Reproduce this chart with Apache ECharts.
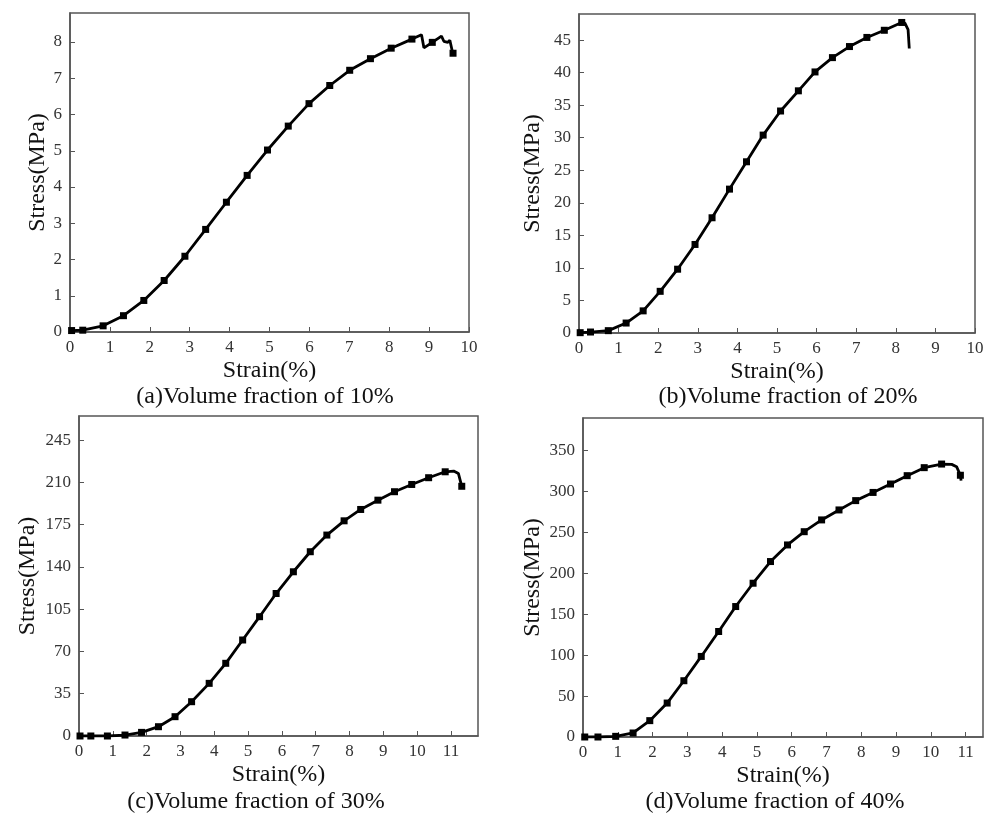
<!DOCTYPE html>
<html>
<head>
<meta charset="utf-8">
<script src="https://cdn.jsdelivr.net/npm/echarts@6/dist/echarts.min.js"></script>
<style>
    html, body { margin: 0; padding: 0; background: #fff; }
    #chart { width: 995px; height: 817px; }
</style>
</head>
<body>
<div id="chart"></div>
<script>
// (a) 10% volume fraction
const strainA = [0.04, 0.32, 0.83, 1.34, 1.85, 2.36, 2.88, 3.40, 3.92, 4.44, 4.95, 5.47, 5.99, 6.51, 7.01, 7.53, 8.05, 8.57, 8.81, 8.87, 9.08, 9.31, 9.37, 9.47, 9.52, 9.58, 9.60]
const stressA = [0.04, 0.05, 0.17, 0.45, 0.87, 1.42, 2.09, 2.83, 3.58, 4.32, 5.02, 5.68, 6.30, 6.80, 7.22, 7.54, 7.83, 8.08, 8.20, 7.84, 7.99, 8.16, 8.02, 7.99, 8.05, 7.75, 7.69]
const markA = [0, 1, 2, 3, 4, 5, 6, 7, 8, 9, 10, 11, 12, 13, 14, 15, 16, 17, 20, 26]
// (b) 20%
const strainB = [0.03, 0.29, 0.74, 1.19, 1.62, 2.05, 2.49, 2.93, 3.36, 3.80, 4.23, 4.65, 5.09, 5.54, 5.96, 6.40, 6.83, 7.27, 7.71, 8.15, 8.23, 8.31, 8.34]
const stressB = [0.05, 0.15, 0.36, 1.53, 3.4, 6.4, 9.8, 13.6, 17.7, 22.1, 26.3, 30.4, 34.1, 37.2, 40.1, 42.3, 44.0, 45.4, 46.5, 47.7, 47.6, 46.6, 43.7]
const markB = [0, 1, 2, 3, 4, 5, 6, 7, 8, 9, 10, 11, 12, 13, 14, 15, 16, 17, 18, 19]
// (c) 30%
const strainC = [0.03, 0.35, 0.84, 1.36, 1.85, 2.35, 2.84, 3.33, 3.85, 4.34, 4.84, 5.34, 5.83, 6.34, 6.84, 7.33, 7.84, 8.33, 8.84, 9.33, 9.84, 10.34, 10.83, 11.08, 11.22, 11.32]
const stressC = [0, 0, 0, 0.8, 3.0, 7.7, 16.0, 28.4, 43.6, 60.2, 79.5, 98.8, 118, 136, 152.6, 166.4, 178.2, 187.6, 195.3, 202.3, 208.3, 213.9, 218.8, 219.4, 217.4, 206.8]
const markC = [0, 1, 2, 3, 4, 5, 6, 7, 8, 9, 10, 11, 12, 13, 14, 15, 16, 17, 18, 19, 20, 21, 22, 25]
// (d) 40%
const strainD = [0.05, 0.43, 0.94, 1.44, 1.92, 2.42, 2.90, 3.40, 3.90, 4.39, 4.89, 5.39, 5.88, 6.36, 6.86, 7.36, 7.84, 8.34, 8.84, 9.32, 9.81, 10.31, 10.60, 10.74, 10.85, 10.87]
const stressD = [0, 0, 0.8, 4.9, 20, 41.5, 68.8, 98.5, 129, 159.5, 188, 214.5, 234.8, 251, 265.4, 277.6, 289, 299, 309.3, 319.5, 329.3, 333.7, 333.3, 330.5, 320, 313.4]
const markD = [0, 1, 2, 3, 4, 5, 6, 7, 8, 9, 10, 11, 12, 13, 14, 15, 16, 17, 18, 19, 20, 21, 24]

const captions = ['(a)Volume fraction of 10%', '(b)Volume fraction of 20%', '(c)Volume fraction of 30%', '(d)Volume fraction of 40%']
const xMax = [10, 10, 11.8, 11.5]
const yMax = [8.8, 49, 265, 390]
const yStep = [1, 5, 35, 50]

const panels = [
    { strain: strainA, stress: stressA, mark: markA },
    { strain: strainB, stress: stressB, mark: markB },
    { strain: strainC, stress: stressC, mark: markC },
    { strain: strainD, stress: stressD, mark: markD }
]
const grids = [
    { left: 70, top: 13, width: 399, height: 319 },
    { left: 579, top: 14, width: 396, height: 319 },
    { left: 79, top: 416, width: 399, height: 320 },
    { left: 583, top: 418, width: 400, height: 319 }
]
const captionPos = [[265, 397], [788, 397], [256, 802], [775, 802]]
const yNameGap = [20, 34, 39, 38]

const serif = '"Liberation Serif", "DejaVu Serif", serif'
const chart = echarts.init(document.getElementById('chart'))

const option = {
    backgroundColor: '#fff',
    animation: false,
    grid: grids.map((g) => ({ ...g, show: true, borderColor: '#555', borderWidth: 1.5 })),
    xAxis: panels.map((p, i) => ({
        type: 'value',
        gridIndex: i,
        min: 0,
        max: xMax[i],
        interval: 1,
        name: 'Strain(%)',
        nameLocation: 'middle',
        nameGap: 27,
        nameTextStyle: { fontFamily: serif, fontSize: 24, color: '#111' },
        axisLine: { onZero: false, lineStyle: { color: '#555', width: 1.5 } },
        axisTick: { inside: true, length: 5, lineStyle: { color: '#555' } },
        axisLabel: { fontFamily: serif, fontSize: 17, color: '#333', margin: 7, showMaxLabel: xMax[i] % 1 === 0 },
        splitLine: { show: false }
    })),
    yAxis: panels.map((p, i) => ({
        type: 'value',
        gridIndex: i,
        min: 0,
        max: yMax[i],
        interval: yStep[i],
        name: 'Stress(MPa)',
        nameLocation: 'middle',
        nameGap: yNameGap[i],
        nameTextStyle: { fontFamily: serif, fontSize: 24, color: '#111' },
        axisLine: { lineStyle: { color: '#555', width: 1.5 } },
        axisTick: { inside: true, length: 5, lineStyle: { color: '#555' } },
        axisLabel: { fontFamily: serif, fontSize: 17, color: '#333', margin: 8, showMaxLabel: false },
        splitLine: { show: false }
    })),
    graphic: captions.map((c, i) => ({
        type: 'text',
        x: captionPos[i][0],
        y: captionPos[i][1],
        style: {
            text: c,
            fontFamily: serif,
            fontSize: 24,
            fill: '#111',
            textAlign: 'center',
            textVerticalAlign: 'middle'
        }
    })),
    series: panels.map((p, i) => ({
        type: 'line',
        xAxisIndex: i,
        yAxisIndex: i,
        data: p.strain.map((x, k) => ({
            value: [x, p.stress[k]],
            symbol: p.mark.includes(k) ? 'rect' : 'none'
        })),
        symbolSize: 7,
        showAllSymbol: true,
        lineStyle: { color: '#000', width: 2.8 },
        itemStyle: { color: '#000' }
    }))
}
chart.setOption(option)
</script>
</body>
</html>
